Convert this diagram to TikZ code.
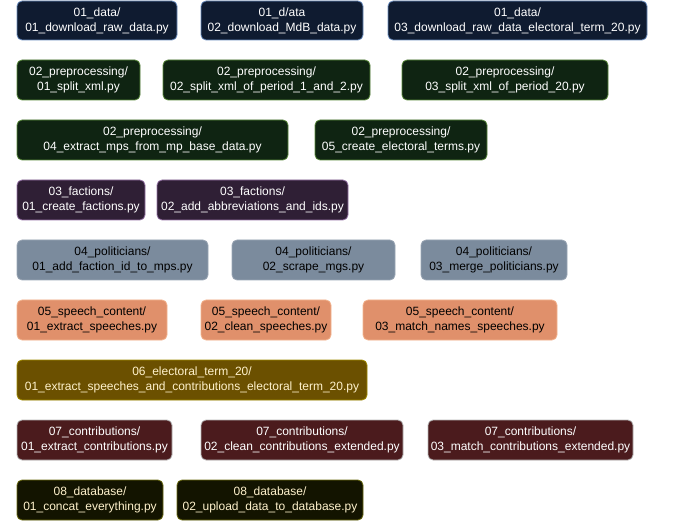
\documentclass[tikz,border=0pt]{standalone}
\usepackage{fontspec}
\setmainfont{Liberation Sans}
\definecolor{fillA}{HTML}{0F1B30}\definecolor{drawA}{HTML}{6C8EBF}
\definecolor{fillB}{HTML}{0F2412}\definecolor{drawB}{HTML}{5A8A3C}
\definecolor{fillC}{HTML}{2F1F35}\definecolor{drawC}{HTML}{9673A6}
\definecolor{fillD}{HTML}{7B8B9D}\definecolor{drawD}{HTML}{9AA6B4}
\definecolor{fillE}{HTML}{E0906B}\definecolor{drawE}{HTML}{F2B48F}
\definecolor{fillF}{HTML}{6B5000}\definecolor{drawF}{HTML}{A08A00}
\definecolor{fillG}{HTML}{4B1B1D}\definecolor{drawG}{HTML}{B5B5B5}
\definecolor{fillH}{HTML}{131400}\definecolor{drawH}{HTML}{6B6B10}
\definecolor{cream}{HTML}{FFF2CC}
\tikzset{
  box/.style={draw, rounded corners=5pt, line width=0.8pt, align=center, inner sep=0pt},
  sa/.style={box, fill=fillA, draw=drawA, font=\fontsize{12}{15}\selectfont\color{white}},
  sb/.style={box, fill=fillB, draw=drawB, font=\fontsize{12}{15}\selectfont\color{white}},
  sc/.style={box, fill=fillC, draw=drawC, font=\fontsize{12}{15}\selectfont\color{white}},
  sd/.style={box, fill=fillD, draw=drawD, font=\fontsize{12}{15}\selectfont\color{black}},
  se/.style={box, fill=fillE, draw=drawE, font=\fontsize{12}{15}\selectfont\color{black}},
  sf/.style={box, fill=fillF, draw=drawF, font=\fontsize{12}{15}\selectfont\color{cream}},
  sg/.style={box, fill=fillG, draw=drawG, font=\fontsize{12}{15}\selectfont\color{white}},
  sh/.style={box, fill=fillH, draw=drawH, font=\fontsize{12}{15}\selectfont\color{cream}},
}
\newcommand\bx[7]{\node[#6, minimum width={(#4-#2)*1pt}, minimum height={(#5-#3)*1pt}]
  (#1) at ({(#2+#4)/2},{-(#3+#5)/2}) {#7};}
\begin{document}
\begin{tikzpicture}[x=1pt,y=1pt]
\useasboundingbox (0,0) rectangle (696,-521);
\bx{a1}{17}{1}{177}{40}{sa}{01\_data/\\01\_download\_raw\_data.py}
\bx{a2}{201}{1}{363}{40}{sa}{01\_d/ata\\02\_download\_MdB\_data.py}
\bx{a3}{388}{1}{647}{40}{sa}{01\_data/\\03\_download\_raw\_data\_electoral\_term\_20.py}
\bx{b1}{17}{60}{140}{100}{sb}{02\_preprocessing/\\01\_split\_xml.py}
\bx{b2}{163}{60}{370}{100}{sb}{02\_preprocessing/\\02\_split\_xml\_of\_period\_1\_and\_2.py}
\bx{b3}{402}{60}{608}{100}{sb}{02\_preprocessing/\\03\_split\_xml\_of\_period\_20.py}
\bx{b4}{17}{120}{288}{160}{sb}{02\_preprocessing/\\04\_extract\_mps\_from\_mp\_base\_data.py}
\bx{b5}{315}{120}{487}{160}{sb}{02\_preprocessing/\\05\_create\_electoral\_terms.py}
\bx{c1}{17}{180}{145}{220}{sc}{03\_factions/\\01\_create\_factions.py}
\bx{c2}{157}{180}{348}{220}{sc}{03\_factions/\\02\_add\_abbreviations\_and\_ids.py}
\bx{d1}{17}{240}{208}{280}{sd}{04\_politicians/\\01\_add\_faction\_id\_to\_mps.py}
\bx{d2}{232}{240}{395}{280}{sd}{04\_politicians/\\02\_scrape\_mgs.py}
\bx{d3}{421}{240}{567}{280}{sd}{04\_politicians/\\03\_merge\_politicians.py}
\bx{e1}{17}{300}{167}{340}{se}{05\_speech\_content/\\01\_extract\_speeches.py}
\bx{e2}{201}{300}{331}{340}{se}{05\_speech\_content/\\02\_clean\_speeches.py}
\bx{e3}{363}{300}{557}{340}{se}{05\_speech\_content/\\03\_match\_names\_speeches.py}
\bx{f1}{17}{360}{367}{400}{sf}{06\_electoral\_term\_20/\\01\_extract\_speeches\_and\_contributions\_electoral\_term\_20.py}
\bx{g1}{17}{420}{172}{460}{sg}{07\_contributions/\\01\_extract\_contributions.py}
\bx{g2}{201}{420}{403}{460}{sg}{07\_contributions/\\02\_clean\_contributions\_extended.py}
\bx{g3}{428}{420}{633}{460}{sg}{07\_contributions/\\03\_match\_contributions\_extended.py}
\bx{h1}{17}{480}{163}{520}{sh}{08\_database/\\01\_concat\_everything.py}
\bx{h2}{177}{480}{363}{520}{sh}{08\_database/\\02\_upload\_data\_to\_database.py}
\end{tikzpicture}
\end{document}
